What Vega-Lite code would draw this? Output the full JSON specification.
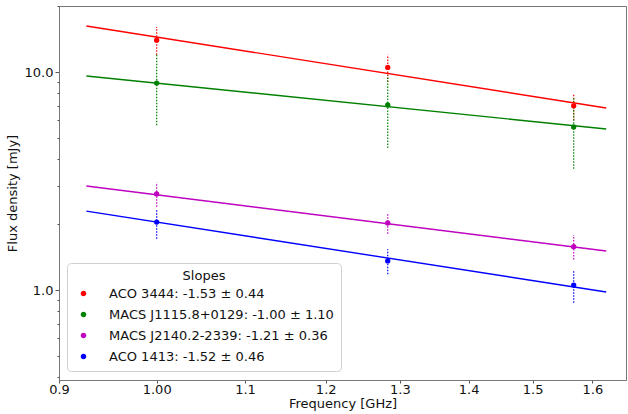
{
  "$schema": "https://vega.github.io/schema/vega-lite/v6.json",
  "width": 567,
  "height": 374,
  "autosize": "none",
  "padding": {"left": 59, "top": 6, "right": 2, "bottom": 34},
  "background": "white",
  "config": {
    "font": "DejaVu Sans",
    "view": {"stroke": "#777", "strokeWidth": 1},
    "axis": {"grid": false, "domainColor": "#777", "tickColor": "#555", "labelColor": "#111", "titleColor": "#111", "labelFontSize": 13, "titleFontSize": 13, "titleFontWeight": "normal", "labelFont": "DejaVu Sans", "titleFont": "DejaVu Sans"}
  },
  "datasets": {
    "pts": [
      {"series": "ACO 3444: -1.53 ± 0.44", "freq": 1.0, "flux": 14.0, "lo": 12.0, "hi": 16.1},
      {"series": "ACO 3444: -1.53 ± 0.44", "freq": 1.283, "flux": 10.5, "lo": 9.0, "hi": 12.0},
      {"series": "ACO 3444: -1.53 ± 0.44", "freq": 1.568, "flux": 7.0, "lo": 6.0, "hi": 8.0},
      {"series": "MACS J1115.8+0129: -1.00 ± 1.10", "freq": 1.0, "flux": 8.9, "lo": 5.7, "hi": 12.1},
      {"series": "MACS J1115.8+0129: -1.00 ± 1.10", "freq": 1.283, "flux": 7.06, "lo": 4.48, "hi": 9.64},
      {"series": "MACS J1115.8+0129: -1.00 ± 1.10", "freq": 1.568, "flux": 5.6, "lo": 3.6, "hi": 7.6},
      {"series": "MACS J2140.2-2339: -1.21 ± 0.36", "freq": 1.0, "flux": 2.76, "lo": 2.41, "hi": 3.11},
      {"series": "MACS J2140.2-2339: -1.21 ± 0.36", "freq": 1.283, "flux": 2.03, "lo": 1.81, "hi": 2.25},
      {"series": "MACS J2140.2-2339: -1.21 ± 0.36", "freq": 1.568, "flux": 1.58, "lo": 1.38, "hi": 1.79},
      {"series": "ACO 1413: -1.52 ± 0.46", "freq": 1.0, "flux": 2.05, "lo": 1.72, "hi": 2.36},
      {"series": "ACO 1413: -1.52 ± 0.46", "freq": 1.283, "flux": 1.36, "lo": 1.18, "hi": 1.54},
      {"series": "ACO 1413: -1.52 ± 0.46", "freq": 1.568, "flux": 1.054, "lo": 0.875, "hi": 1.235}
    ],
    "fit": [
      {"series": "ACO 3444: -1.53 ± 0.44", "freq": 0.927, "flux": 16.26},
      {"series": "ACO 3444: -1.53 ± 0.44", "freq": 1.624, "flux": 6.84},
      {"series": "MACS J1115.8+0129: -1.00 ± 1.10", "freq": 0.927, "flux": 9.59},
      {"series": "MACS J1115.8+0129: -1.00 ± 1.10", "freq": 1.624, "flux": 5.48},
      {"series": "MACS J2140.2-2339: -1.21 ± 0.36", "freq": 0.927, "flux": 3.0},
      {"series": "MACS J2140.2-2339: -1.21 ± 0.36", "freq": 1.624, "flux": 1.51},
      {"series": "ACO 1413: -1.52 ± 0.46", "freq": 0.927, "flux": 2.3},
      {"series": "ACO 1413: -1.52 ± 0.46", "freq": 1.624, "flux": 0.979}
    ]
  },
  "resolve": {"legend": {"color": "independent"}, "axis": {"y": "independent"}},
  "layer": [
    {
      "data": {"name": "pts"},
      "mark": {"type": "rule", "strokeDash": [1.5, 1.5], "strokeWidth": 1.2},
      "encoding": {
        "x": {"field": "freq", "type": "quantitative", "scale": {"type": "log", "domain": [0.9, 1.659], "nice": false, "zero": false},
          "axis": {"title": "Frequency [GHz]", "values": [0.9, 1.0, 1.1, 1.2, 1.3, 1.4, 1.5, 1.6], "labelExpr": "datum.value == 1 ? '1.00' : format(datum.value, '.1f')", "tickSize": 3, "labelPadding": 0, "titlePadding": 1, "labelFlush": false}},
        "y": {"field": "lo", "type": "quantitative", "scale": {"type": "log", "domain": [0.3866, 20.08], "nice": false, "zero": false},
          "axis": {"orient": "left", "title": "Flux density [mJy]", "values": [1, 10], "labelExpr": "format(datum.value, '.1f')", "tickSize": 4, "labelPadding": 2, "titlePadding": 5}},
        "y2": {"field": "hi"},
        "color": {"field": "series", "type": "nominal", "legend": null,
          "scale": {"domain": ["ACO 3444: -1.53 ± 0.44", "MACS J1115.8+0129: -1.00 ± 1.10", "MACS J2140.2-2339: -1.21 ± 0.36", "ACO 1413: -1.52 ± 0.46"], "range": ["#ff0000", "#008000", "#bf00bf", "#0000ff"]}}
      }
    },
    {
      "data": {"name": "fit"},
      "mark": {"type": "line", "strokeWidth": 1.4},
      "encoding": {
        "x": {"field": "freq", "type": "quantitative"},
        "y": {"field": "flux", "type": "quantitative",
          "axis": {"orient": "left", "title": null, "values": [0.4, 0.5, 0.6, 0.7, 0.8, 0.9, 2, 3, 4, 5, 6, 7, 8, 9, 20], "labels": false, "tickSize": 2, "domain": false}},
        "color": {"field": "series", "type": "nominal", "legend": null},
        "detail": {"field": "series"}
      }
    },
    {
      "data": {"name": "pts"},
      "mark": {"type": "point", "shape": "circle", "filled": true, "size": 28, "opacity": 1},
      "encoding": {
        "x": {"field": "freq", "type": "quantitative"},
        "y": {"field": "flux", "type": "quantitative", "axis": null},
        "color": {"field": "series", "type": "nominal",
          "legend": {
            "title": "Slopes",
            "orient": "none",
            "legendX": 8,
            "legendY": 257,
            "titleAnchor": "middle",
            "titleAlign": "center",
            "titleFontSize": 13,
            "titleFontWeight": "normal",
            "titleColor": "#111",
            "titlePadding": 3,
            "labelFontSize": 13,
            "labelColor": "#111",
            "labelOffset": 18,
            "padding": 7,
            "symbolOffset": 2,
            "rowPadding": 6,
            "fillColor": "rgba(255,255,255,0.85)",
            "strokeColor": "#d0d0d0",
            "cornerRadius": 4,
            "symbolType": "M0,-1V1M-0.4,0A0.4,0.4,0,1,1,0.4,0A0.4,0.4,0,1,1,-0.4,0Z",
            "symbolSize": 196,
            "symbolStrokeWidth": 1,
            "symbolDash": [1, 1],
            "labelLimit": 400,
            "encode": {"symbols": {"update": {"stroke": {"scale": "color", "field": "value"}}}}
          }
        }
      }
    }
  ]
}
